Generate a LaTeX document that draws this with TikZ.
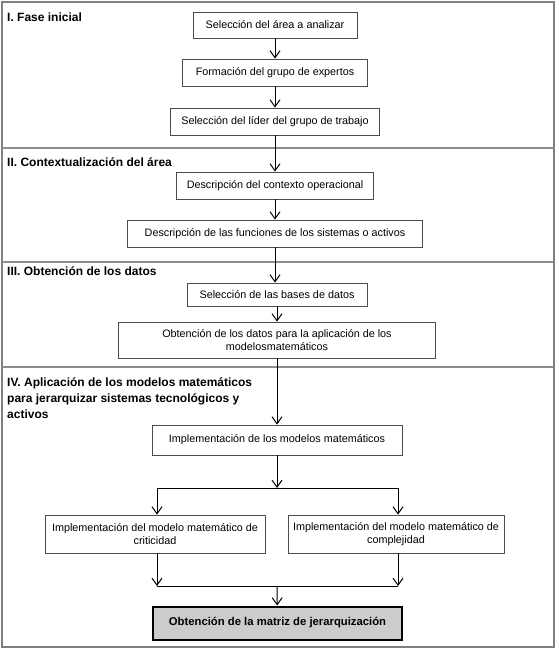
\documentclass[tikz,border=0pt]{standalone}
\usepackage{fontspec}
\setmainfont{Liberation Sans}
\usetikzlibrary{arrows.meta,calc}
\begin{document}
\begin{tikzpicture}[x=1pt,y=-1pt,
  box/.style={draw=black!70, line width=0.8pt, fill=white, inner sep=0pt, align=center,
    font=\fontsize{10.8}{13.5}\selectfont},
  final/.style={draw=black, line width=2pt, fill=black!20, inner sep=0pt, align=center,
    font=\fontsize{11.3}{13}\selectfont\bfseries},
  ttl/.style={anchor=base west, inner sep=0pt, align=left,
    font=\fontsize{12}{16}\selectfont\bfseries},
  arr/.style={draw=black, line width=1pt, -{Straight Barb[length=7pt,width=10pt]}},
  ln/.style={draw=black, line width=1pt},
  frame/.style={draw=black!50, line width=1.2pt},
  divider/.style={draw=black!45, line width=1.6pt}]
\useasboundingbox (0,0) rectangle (558,650);
\fill[white] (0,0) rectangle (558,650);
% frame and dividers
\draw[frame] (2,2) rectangle (554,647);
\draw[divider] (2,148) -- (554,148);
\draw[divider] (2,262) -- (554,262);
\draw[divider] (2,367) -- (554,367);
% section titles
\node[ttl] (t1) at (7,21.3) {I. Fase inicial};
\node[ttl] (t2) at (7,166.3) {II. Contextualizaci\'on del \'area};
\node[ttl] (t3) at (7,275.3) {III. Obtenci\'on de los datos};
\node[ttl, anchor=north west] (t4) at (7,377) {IV. Aplicaci\'on de los modelos matem\'aticos\\para jerarquizar sistemas tecnol\'ogicos y\\activos};
% boxes
\node[box, minimum width=164pt, minimum height=26pt] (b1) at (275,25) {Selecci\'on del \'area a analizar};
\node[box, minimum width=185pt, minimum height=27pt] (b2) at (275,72.5) {Formaci\'on del grupo de expertos};
\node[box, minimum width=209pt, minimum height=27pt] (b3) at (275,121.5) {Selecci\'on del l\'ider del grupo de trabajo};
\node[box, minimum width=197pt, minimum height=27pt] (b4) at (275,185.5) {Descripci\'on del contexto operacional};
\node[box, minimum width=295pt, minimum height=27pt] (b5) at (275,233.5) {Descripci\'on de las funciones de los sistemas o activos};
\node[box, minimum width=180pt, minimum height=23pt] (b6) at (277,294.5) {Selecci\'on de las bases de datos};
\node[box, minimum width=317pt, minimum height=36pt] (b7) at (277,340) {Obtenci\'on de los datos para la aplicaci\'on de los\\modelosmatem\'aticos};
\node[box, minimum width=250pt, minimum height=30pt] (b8) at (277,440) {Implementaci\'on de los modelos matem\'aticos};
\node[box, minimum width=220pt, minimum height=38pt] (b9) at (155,534) {Implementaci\'on del modelo matem\'atico de\\criticidad};
\node[box, minimum width=216pt, minimum height=38pt] (b10) at (396,534) {Implementaci\'on del modelo matem\'atico de\\complejidad};
\node[final, minimum width=249pt, minimum height=33pt] (b11) at (277.5,623) {Obtenci\'on de la matriz de jerarquizaci\'on};
% connectors
\draw[arr] (b1) -- (b2);
\draw[arr] (b2) -- (b3);
\draw[arr] (b3) -- (b4);
\draw[arr] (b4) -- (b5);
\draw[arr] (b5.south) -- (b5.south |- b6.north);
\draw[arr] (b6) -- (b7);
\draw[arr] (b7) -- (b8);
\coordinate (fork) at (277,488);
\coordinate (forkL) at (157,488);
\coordinate (forkR) at (398,488);
\draw[arr] (b8) -- (fork);
\draw[ln] (forkL) -- (forkR);
\draw[arr] (forkL) -- (forkL |- b9.north);
\draw[arr] (forkR) -- (forkR |- b10.north);
\coordinate (joinL) at (157,586);
\coordinate (joinR) at (398,586);
\coordinate (join) at (277,586);
\draw[arr] (joinL |- b9.south) -- (joinL);
\draw[arr] (joinR |- b10.south) -- (joinR);
\draw[ln] (joinL) -- (joinR);
\draw[arr] (join) -- (b11);
\end{tikzpicture}
\end{document}
